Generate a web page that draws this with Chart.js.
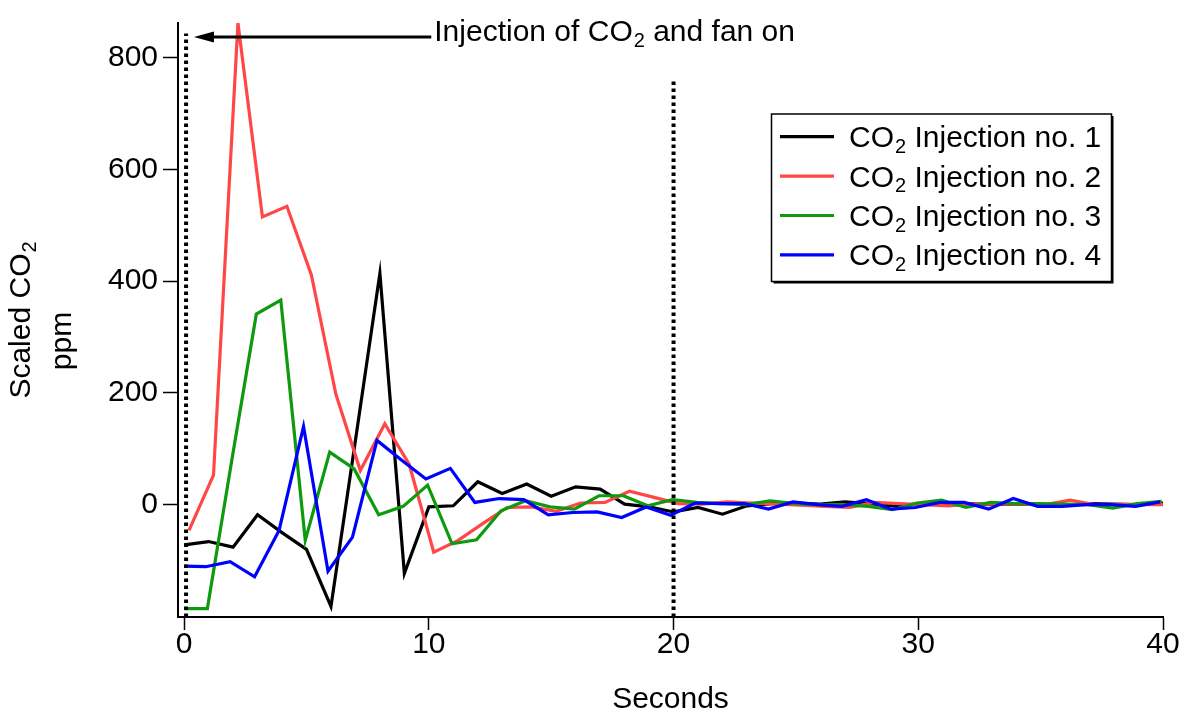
<!DOCTYPE html>
<html>
<head>
<meta charset="utf-8">
<title>Scaled CO2 after injection</title>
<script src="https://cdn.jsdelivr.net/npm/chart.js@4.4.1/dist/chart.umd.min.js"></script>
<style>
  html, body { margin: 0; padding: 0; background: #fff; }
  #wrap { width: 1183px; height: 713px; }
</style>
</head>
<body>
<div id="wrap"><canvas id="co2Chart" width="1183" height="713"></canvas></div>
<script>
// one reading per second after the injection
const seconds = [0, 1, 2, 3, 4, 5, 6, 7, 8, 9, 10, 11, 12, 13, 14, 15, 16, 17, 18, 19, 20,
                 21, 22, 23, 24, 25, 26, 27, 28, 29, 30, 31, 32, 33, 34, 35, 36, 37, 38, 39, 40];

// scaled CO2 (ppm) per injection run
const injection1 = [-72, -66, -76, -18, -50, -80, -182, 115, 414, -123, -4, -2, 41, 20, 37, 15, 32, 28, 1, -4, -13,
                    -5, -17, -2, 2, 3, 1, 5, 2, -2, 1, 0, 2, 0, 1, 0, -1, 2, 1, 0, 3];
const injection2 = [-46, 53, 862, 515, 534, 411, 198, 61, 145, 72, -85, -64, -34, -5, -4, -12, 3, 4, 24, 13, 2,
                    1, 5, 3, 1, -1, -3, -5, 4, 2, 0, -2, 1, 1, 1, 0, 8, 0, 0, 0, 0];
const injection3 = [-186, -186, 80, 341, 366, -64, 94, 64, -18, -3, 35, -70, -63, -11, 7, -4, -8, 16, 16, -2, 9,
                    4, 2, 0, 7, 2, 0, 0, -3, -9, 3, 8, -5, 4, 2, 2, 1, 0, -6, 2, 6];
const injection4 = [-110, -111, -102, -129, -46, 140, -119, -58, 115, 80, 46, 65, 4, 11, 9, -18, -14, -13, -23, -4, -19,
                    3, 2, 2, -8, 5, 0, -3, 9, -8, -5, 4, 4, -8, 11, -3, -3, 0, 0, -3, 5];

// small clock offset (s) of each run's logger
const runShift = [0, 0.2, -0.05, -0.12];

const runNames = ['CO2 Injection no. 1', 'CO2 Injection no. 2', 'CO2 Injection no. 3', 'CO2 Injection no. 4'];
const runColors = ['#000000', '#ff4747', '#0e9a0e', '#0000ff'];

const xTicks = [0, 10, 20, 30, 40];
const yTicks = [0, 200, 400, 600, 800];

// fan-on mark and the 20 s mark (time, top of dotted line in ppm)
const fanOnTime = 0.08, fanOnTop = 843;
const markTime = 20, markTop = 760;

// arrow pointing back at the fan-on line
const arrowFrom = 10.1, arrowTo = 0.4, arrowLevel = 837;
const arrowText = 'Injection of CO2 and fan on';

const xMin = -0.25, xMax = 40;
const yMin = -201, yMax = 862;

const FONT = "'Liberation Sans', Arial, sans-serif";
const FONT_SIZE = 30;

function runPoints(values, shift) {
    return seconds.map((t, i) => ({ x: Math.max(0, t + shift), y: values[i] }));
}

// draws text where "CO2" gets a subscript 2; returns the width
function chemText(ctx, text, x, y, size, draw = true) {
    const parts = text.split('CO2');
    const big = size + 'px ' + FONT;
    const small = Math.round(size * 0.66) + 'px ' + FONT;
    let cx = x;
    parts.forEach((part, i) => {
        ctx.font = big;
        if (draw) ctx.fillText(part, cx, y);
        cx += ctx.measureText(part).width;
        if (i < parts.length - 1) {
            if (draw) ctx.fillText('CO', cx, y);
            cx += ctx.measureText('CO').width;
            ctx.font = small;
            if (draw) ctx.fillText('2', cx + 1, y + size * 0.19);
            cx += ctx.measureText('2').width + 1;
        }
    });
    return cx - x;
}

const decorPlugin = {
    id: 'co2Decor',
    afterDraw(chart) {
        const ctx = chart.ctx;
        const xs = chart.scales.x, ys = chart.scales.y;
        ctx.save();
        ctx.fillStyle = '#000';
        ctx.strokeStyle = '#000';
        ctx.textAlign = 'left';
        ctx.textBaseline = 'alphabetic';

        // arrow + note
        const ay = ys.getPixelForValue(arrowLevel);
        const tip = xs.getPixelForValue(arrowTo);
        const tail = xs.getPixelForValue(arrowFrom);
        ctx.lineWidth = 3;
        ctx.beginPath();
        ctx.moveTo(tail, ay);
        ctx.lineTo(tip + 15, ay);
        ctx.stroke();
        ctx.beginPath();
        ctx.moveTo(tip, ay);
        ctx.lineTo(tip + 20, ay - 5.5);
        ctx.lineTo(tip + 20, ay + 5.5);
        ctx.closePath();
        ctx.fill();
        chemText(ctx, arrowText, tail + 3, ay + 4.5, FONT_SIZE);

        // y axis title, two lines
        ctx.save();
        ctx.translate(30, 320);
        ctx.rotate(-Math.PI / 2);
        const w1 = chemText(ctx, 'Scaled CO2', 0, 0, FONT_SIZE, false);
        chemText(ctx, 'Scaled CO2', -w1 / 2, 0, FONT_SIZE);
        ctx.restore();
        ctx.save();
        ctx.translate(71, 341);
        ctx.rotate(-Math.PI / 2);
        ctx.font = FONT_SIZE + 'px ' + FONT;
        ctx.textAlign = 'center';
        ctx.fillText('ppm', 0, 0);
        ctx.restore();

        // legend box with drop shadow
        const bx = 771.5, by = 114, bw = 340, bh = 167.5;
        ctx.fillStyle = '#000';
        ctx.fillRect(bx + 2, by + 2, bw, bh);
        ctx.fillStyle = '#fff';
        ctx.fillRect(bx, by, bw, bh);
        ctx.lineWidth = 1.5;
        ctx.strokeRect(bx, by, bw, bh);

        const rows = chart.data.datasets.filter(d => d.legendRow !== undefined)
            .sort((a, b) => a.legendRow - b.legendRow);
        rows.forEach((d, i) => {
            const ry = 136.7 + i * 39.4;
            ctx.strokeStyle = d.borderColor;
            ctx.lineWidth = 3.2;
            ctx.beginPath();
            ctx.moveTo(780, ry);
            ctx.lineTo(834, ry);
            ctx.stroke();
            ctx.fillStyle = '#000';
            chemText(ctx, d.label, 849, ry + 10.5, FONT_SIZE);
        });
        ctx.restore();
    }
};

const runSeries = [injection1, injection2, injection3, injection4].map((vals, i) => ({
    label: runNames[i],
    legendRow: i,
    data: runPoints(vals, runShift[i]),
    borderColor: runColors[i],
    borderWidth: 3.2,
    pointRadius: 0,
    tension: 0,
    order: 4 - i
}));

const markerStyle = {
    borderColor: '#000',
    borderWidth: 4,
    borderDash: [3.5, 3.5],
    pointRadius: 0,
    order: 0
};

const markers = [
    { ...markerStyle, data: [{ x: fanOnTime, y: yMin }, { x: fanOnTime, y: fanOnTop }] },
    { ...markerStyle, data: [{ x: markTime, y: yMin }, { x: markTime, y: markTop }] }
];

new Chart(document.getElementById('co2Chart'), {
    type: 'line',
    data: { datasets: [...markers, ...runSeries] },
    options: {
        responsive: false,
        animation: false,
        events: [],
        layout: { padding: { top: 21, right: 20, left: 0, bottom: 0 } },
        plugins: { legend: { display: false }, tooltip: { enabled: false } },
        scales: {
            x: {
                type: 'linear',
                min: xMin,
                max: xMax,
                afterBuildTicks: s => { s.ticks = xTicks.map(v => ({ value: v })); },
                afterFit: s => { s.height = 96; },
                border: { display: true, color: '#000', width: 2 },
                grid: { drawOnChartArea: false, drawTicks: true, tickLength: 13, tickColor: '#000', tickWidth: 1.5 },
                ticks: { color: '#000', font: { family: FONT, size: FONT_SIZE, lineHeight: 1 }, padding: 0, maxRotation: 0, autoSkip: false },
                title: { display: true, text: 'Seconds', color: '#000', font: { family: FONT, size: FONT_SIZE, lineHeight: 1 }, padding: { top: 0, bottom: -2 } }
            },
            y: {
                type: 'linear',
                min: yMin,
                max: yMax,
                afterBuildTicks: s => { s.ticks = yTicks.map(v => ({ value: v })); },
                afterFit: s => { s.width = 178; },
                border: { display: true, color: '#000', width: 2 },
                grid: { drawOnChartArea: false, drawTicks: true, tickLength: 15, tickColor: '#000', tickWidth: 1.5 },
                ticks: { color: '#000', font: { family: FONT, size: FONT_SIZE }, padding: 5 }
            }
        }
    },
    plugins: [decorPlugin]
});
</script>
</body>
</html>
